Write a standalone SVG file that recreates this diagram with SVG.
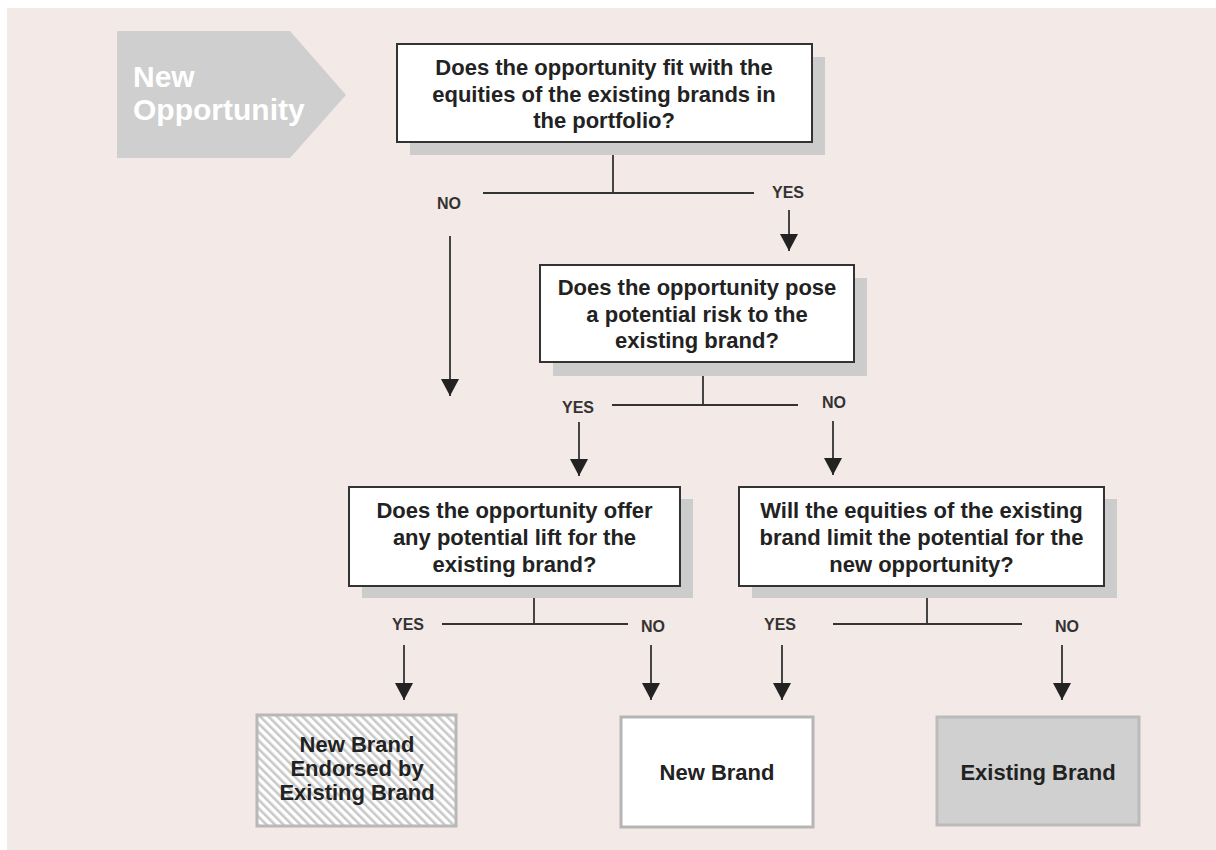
<svg xmlns="http://www.w3.org/2000/svg" width="1216" height="850" viewBox="0 0 1216 850">
  <style>
    .q { font-family: "Liberation Sans", Arial, sans-serif; font-weight: bold; font-size: 22px; fill: #222; text-anchor: middle; }
    .lbl { font-family: "Liberation Sans", Arial, sans-serif; font-weight: bold; font-size: 16px; fill: #333; text-anchor: middle; }
    .box { fill: #ffffff; stroke: #333; stroke-width: 2; }
    .shadow { fill: #cccccc; }
    .ln { stroke: #333; stroke-width: 1.8; fill: none; }
    .arr { stroke: #333; stroke-width: 1.8; fill: none; marker-end: url(#ah); }
  </style>
  <defs>
    <marker id="ah" markerUnits="userSpaceOnUse" viewBox="0 0 17 18" refX="17" refY="9" markerWidth="17" markerHeight="18" orient="auto">
      <path d="M0,0 L17,9 L0,18 z" fill="#222"/>
    </marker>
    <pattern id="hatch" patternUnits="userSpaceOnUse" width="6" height="6" patternTransform="rotate(-45)">
      <rect width="6" height="6" fill="#ffffff"/>
      <rect x="0" y="0" width="2.6" height="6" fill="#c9c9c9"/>
    </pattern>
  </defs>

  <rect x="7" y="8" width="1209" height="842" fill="#f3e9e6"/>

  <g id="start">
    <polygon points="117,31 290,31 346,95 290,158 117,158" fill="#cfcfcf"/>
    <text x="133" y="87" font-family="Liberation Sans, Arial, sans-serif" font-weight="bold" font-size="30" fill="#ffffff">New</text>
    <text x="133" y="120" font-family="Liberation Sans, Arial, sans-serif" font-weight="bold" font-size="30" fill="#ffffff">Opportunity</text>
  </g>

  <g id="q1">
    <rect class="shadow" x="410" y="57" width="415" height="98"/>
    <rect class="box" x="397" y="44" width="415" height="98"/>
    <text class="q" x="604" y="75">Does the opportunity fit with the</text>
    <text class="q" x="604" y="102">equities of the existing brands in</text>
    <text class="q" x="604" y="128">the portfolio?</text>
  </g>

  <g id="q2">
    <rect class="shadow" x="553" y="278" width="314" height="98"/>
    <rect class="box" x="540" y="265" width="314" height="97"/>
    <text class="q" x="697" y="295">Does the opportunity pose</text>
    <text class="q" x="697" y="322">a potential risk to the</text>
    <text class="q" x="697" y="348">existing brand?</text>
  </g>

  <g id="q3">
    <rect class="shadow" x="362" y="499" width="331" height="99"/>
    <rect class="box" x="349" y="487" width="331" height="99"/>
    <text class="q" x="514.5" y="518">Does the opportunity offer</text>
    <text class="q" x="514.5" y="545">any potential lift for the</text>
    <text class="q" x="514.5" y="572">existing brand?</text>
  </g>

  <g id="q4">
    <rect class="shadow" x="752" y="499" width="365" height="99"/>
    <rect class="box" x="739" y="487" width="365" height="99"/>
    <text class="q" x="921.5" y="518">Will the equities of the existing</text>
    <text class="q" x="921.5" y="545">brand limit the potential for the</text>
    <text class="q" x="921.5" y="572">new opportunity?</text>
  </g>

  <g id="endorsed">
    <rect x="257" y="715" width="199" height="111" fill="url(#hatch)" stroke="#b8b8b8" stroke-width="3"/>
    <text class="q" x="357" y="752">New Brand</text>
    <text class="q" x="357" y="776">Endorsed by</text>
    <text class="q" x="357" y="800">Existing Brand</text>
  </g>

  <g id="newbrand">
    <rect x="621" y="717" width="192" height="110" fill="#ffffff" stroke="#b5b5b5" stroke-width="3"/>
    <text class="q" x="717" y="780">New Brand</text>
  </g>

  <g id="existing">
    <rect x="937" y="717" width="202" height="108" fill="#d0d0d0" stroke="#bbbbbb" stroke-width="3"/>
    <text class="q" x="1038" y="780">Existing Brand</text>
  </g>

  <g id="connectors">
    <line class="ln" x1="613" y1="155" x2="613" y2="193"/>
    <line class="ln" x1="483" y1="193" x2="754" y2="193"/>
    <line class="arr" x1="450" y1="236" x2="450" y2="396"/>
    <line class="arr" x1="789" y1="210" x2="789" y2="251"/>

    <line class="ln" x1="703" y1="376" x2="703" y2="405"/>
    <line class="ln" x1="612" y1="405" x2="798" y2="405"/>
    <line class="arr" x1="579" y1="422" x2="579" y2="476"/>
    <line class="arr" x1="833" y1="421" x2="833" y2="475"/>

    <line class="ln" x1="534" y1="598" x2="534" y2="624"/>
    <line class="ln" x1="442" y1="624" x2="628" y2="624"/>
    <line class="arr" x1="404" y1="645" x2="404" y2="700"/>
    <line class="arr" x1="651" y1="645" x2="651" y2="700"/>

    <line class="ln" x1="927" y1="598" x2="927" y2="624"/>
    <line class="ln" x1="833" y1="624" x2="1022" y2="624"/>
    <line class="arr" x1="782" y1="645" x2="782" y2="700"/>
    <line class="arr" x1="1062" y1="645" x2="1062" y2="700"/>
  </g>

  <g id="labels">
    <text class="lbl" x="449" y="209">NO</text>
    <text class="lbl" x="788" y="198">YES</text>
    <text class="lbl" x="578" y="413">YES</text>
    <text class="lbl" x="834" y="408">NO</text>
    <text class="lbl" x="408" y="630">YES</text>
    <text class="lbl" x="653" y="632">NO</text>
    <text class="lbl" x="780" y="630">YES</text>
    <text class="lbl" x="1067" y="632">NO</text>
  </g>
</svg>
